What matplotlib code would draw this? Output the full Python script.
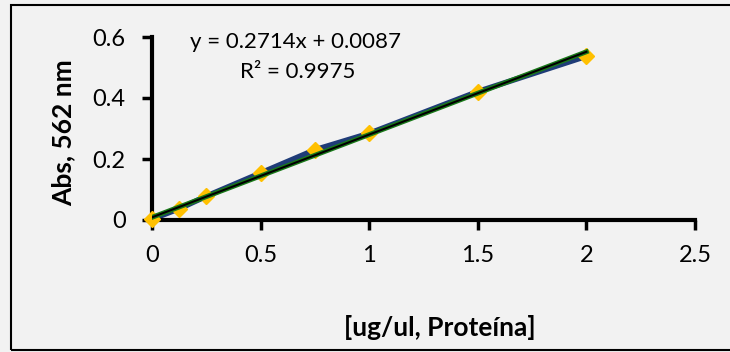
import matplotlib
matplotlib.use("Agg")
import matplotlib.pyplot as plt
from matplotlib.patches import Rectangle
import numpy as np

# datos de la curva de calibracion
conc = [0, 0.125, 0.25, 0.5, 0.75, 1, 1.5, 2]
abs_562 = [0.003, 0.037, 0.078, 0.154, 0.230, 0.284, 0.421, 0.537]
slope = 0.2714
intercept = 0.0087
eq_text = "y = 0.2714x + 0.0087"
r2_text = "R² = 0.9975"
x_ticks = [0, 0.5, 1, 1.5, 2, 2.5]
y_ticks = [0, 0.2, 0.4, 0.6]

plt.rcParams['font.family'] = ['Lato', 'DejaVu Sans']

bg = '#f2f2f2'
fig = plt.figure(figsize=(7.3, 3.52), dpi=100, facecolor=bg)
fig.patches.append(Rectangle((11 / 730, 2 / 352), 1.2, 345 / 352, transform=fig.transFigure,
                             fill=False, edgecolor='black', linewidth=1.5))

ax = fig.add_axes([152 / 730, 1 - 220 / 352, (695 - 152) / 730, (220 - 37) / 352])
ax.set_facecolor(bg)

ax.plot(conc, abs_562, color='#1f3c78', linewidth=4, zorder=2, clip_on=False)
ax.plot(conc, abs_562, linestyle='none', marker='D', markersize=8.5,
        color='#ffc000', zorder=3, clip_on=False)
xfit = np.array([0, 2])
ax.plot(xfit, slope * xfit + intercept, color='#1a7a1a', linewidth=3.5, zorder=4)
ax.plot(xfit, slope * xfit + intercept, color='black', linewidth=1.5, zorder=5)

ax.set_xlim(0, 2.5)
ax.set_ylim(0, 0.6)
ax.set_xticks(x_ticks)
ax.set_xticklabels(['0', '0.5', '1', '1.5', '2', '2.5'])
ax.set_yticks(y_ticks)
ax.set_yticklabels(['0', '0.2', '0.4', '0.6'])

for s in ['top', 'right']:
    ax.spines[s].set_visible(False)
for s in ['left', 'bottom']:
    ax.spines[s].set_linewidth(3)
ax.tick_params(axis='both', direction='out', length=7, width=2.5, labelsize=17)
ax.tick_params(axis='y', pad=12)
ax.tick_params(axis='x', pad=11)

fig.text(295 / 730, 1 - 42 / 352, eq_text, ha='center', va='center', fontsize=16)
fig.text(298 / 730, 1 - 72 / 352, r2_text, ha='center', va='center', fontsize=16)

fig.text(63 / 730, 1 - 133 / 352, 'Abs, 562 nm', rotation=90, ha='center', va='center',
         fontsize=19, fontweight='bold')
fig.text(440 / 730, 1 - 327 / 352, '[ug/ul, Proteína]', ha='center', va='center',
         fontsize=19, fontweight='bold')

fig.savefig('out.png', dpi=100, facecolor=bg)
